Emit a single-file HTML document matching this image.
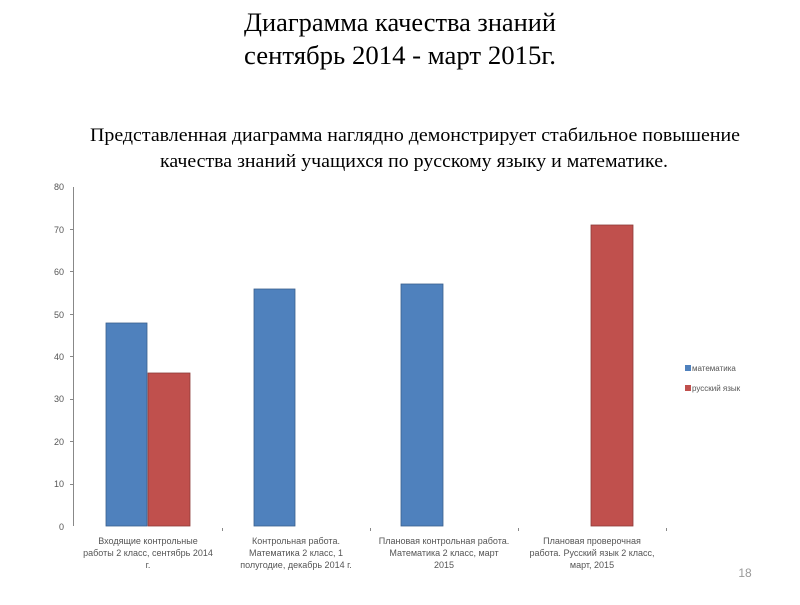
<!DOCTYPE html>
<html><head><meta charset="utf-8"><style>
body{margin:0;width:800px;height:600px;background:#fff;overflow:hidden;font-family:"Liberation Serif",serif}
</style></head><body>
<svg width="800" height="600" xmlns="http://www.w3.org/2000/svg">
<g font-family="Liberation Serif, serif" fill="#000" text-anchor="middle">
<text x="400" y="31" font-size="26" textLength="312" lengthAdjust="spacingAndGlyphs">Диаграмма качества знаний</text>
<text x="400" y="64" font-size="26" textLength="312" lengthAdjust="spacingAndGlyphs">сентябрь  2014 - март 2015г.</text>
<text x="415" y="141" font-size="19" textLength="650" lengthAdjust="spacingAndGlyphs">Представленная диаграмма наглядно демонстрирует стабильное повышение</text>
<text x="414" y="167" font-size="19" textLength="508" lengthAdjust="spacingAndGlyphs">качества знаний учащихся по русскому языку и математике.</text>
</g>
<g font-family="Liberation Sans, sans-serif" font-size="9" fill="#555" text-anchor="end">
<text x="64" y="190">80</text><text x="64" y="233">70</text><text x="64" y="275">60</text>
<text x="64" y="318">50</text><text x="64" y="360">40</text><text x="64" y="402">30</text>
<text x="64" y="445">20</text><text x="64" y="487">10</text><text x="64" y="530">0</text>
</g>
<g stroke="#888" stroke-width="1">
<line x1="73.5" y1="187" x2="73.5" y2="526"/>
<line x1="70" y1="229.5" x2="73" y2="229.5"/><line x1="70" y1="271.5" x2="73" y2="271.5"/>
<line x1="70" y1="314.5" x2="73" y2="314.5"/><line x1="70" y1="356.5" x2="73" y2="356.5"/>
<line x1="70" y1="399.5" x2="73" y2="399.5"/><line x1="70" y1="441.5" x2="73" y2="441.5"/>
<line x1="70" y1="484.5" x2="73" y2="484.5"/>
<line x1="222.5" y1="528" x2="222.5" y2="531"/><line x1="370.5" y1="528" x2="370.5" y2="531"/>
<line x1="518.5" y1="528" x2="518.5" y2="531"/><line x1="666.5" y1="528" x2="666.5" y2="531"/>
</g>
<g stroke-width="0.8">
<rect x="106" y="323" width="41" height="203" fill="#4f81bd" stroke="#3a5f8c"/>
<rect x="148" y="373" width="42" height="153" fill="#c0504d" stroke="#8c3a38"/>
<rect x="254" y="289" width="41" height="237" fill="#4f81bd" stroke="#3a5f8c"/>
<rect x="401" y="284" width="42" height="242" fill="#4f81bd" stroke="#3a5f8c"/>
<rect x="591" y="225" width="42" height="301" fill="#c0504d" stroke="#8c3a38"/>
</g>
<g font-family="Liberation Sans, sans-serif" font-size="9" fill="#555" text-anchor="middle">
<text x="148" y="544">Входящие контрольные</text>
<text x="148" y="556">работы 2 класс, сентябрь 2014</text>
<text x="148" y="568">г.</text>
<text x="296" y="544">Контрольная работа.</text>
<text x="296" y="556">Математика 2 класс, 1</text>
<text x="296" y="568">полугодие, декабрь 2014 г.</text>
<text x="444" y="544">Плановая контрольная работа.</text>
<text x="444" y="556">Математика 2 класс, март</text>
<text x="444" y="568">2015</text>
<text x="592" y="544">Плановая проверочная</text>
<text x="592" y="556">работа. Русский язык 2 класс,</text>
<text x="592" y="568">март, 2015</text>
</g>
<rect x="685" y="365" width="6" height="6" fill="#4f81bd"/>
<rect x="685" y="385" width="6" height="6" fill="#c0504d"/>
<g font-family="Liberation Sans, sans-serif" font-size="8" fill="#555">
<text x="692" y="371">математика</text>
<text x="692" y="391">русский язык</text>
</g>
<text x="745" y="577" font-family="Liberation Sans, sans-serif" font-size="12" fill="#999" text-anchor="middle">18</text>
</svg>
</body></html>
